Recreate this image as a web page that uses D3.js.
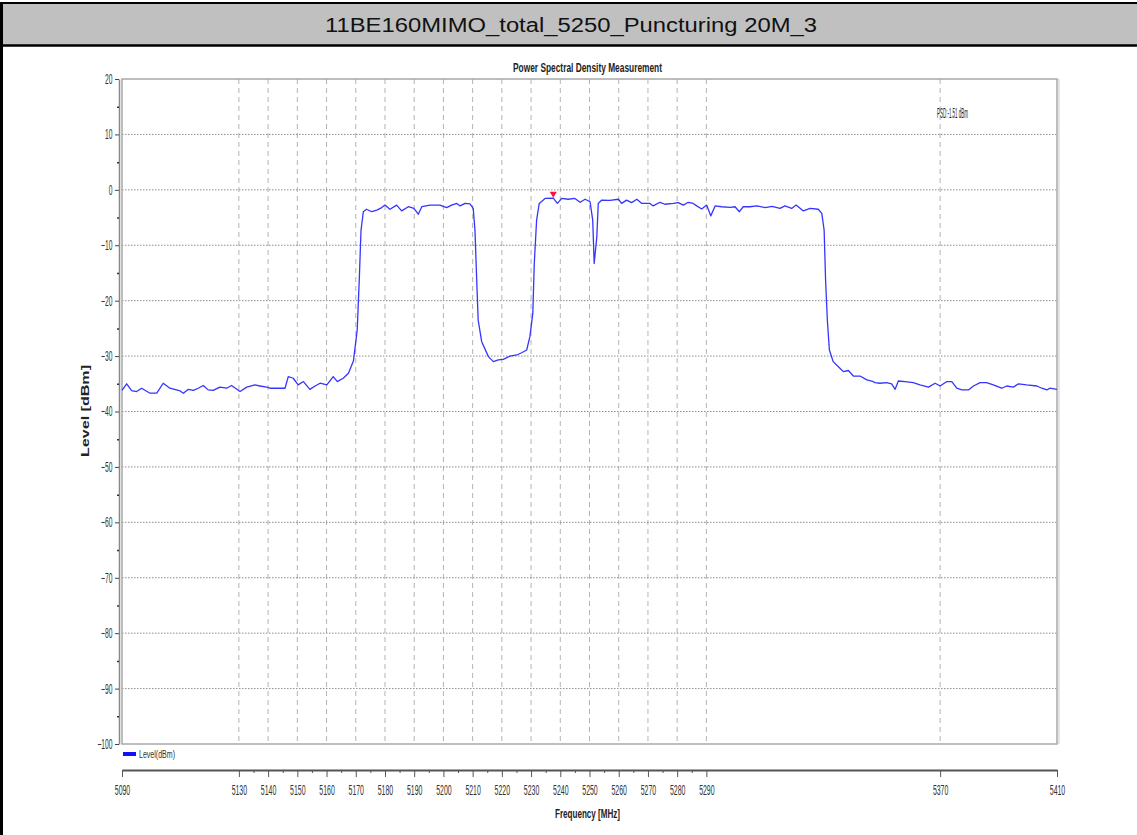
<!DOCTYPE html>
<html>
<head>
<meta charset="utf-8">
<script src="https://cdn.jsdelivr.net/npm/d3@7"></script>
<style>
  body { margin: 0; background: #fff; }
  svg { display: block; font-family: "Liberation Sans", Arial, sans-serif; }
</style>
</head>
<body>
<svg id="chart" width="1137" height="835"></svg>
<script>
// Power spectral density trace

var headerTitle = "11BE160MIMO_total_5250_Puncturing 20M_3";
var chartTitle = "Power Spectral Density Measurement";

var freqs = [5090,5091.6,5093.3,5095.0,5096.7,5099.6,5101.9,5104.1,5106.4,5109.9,
	5111.0,5112.7,5114.4,5116.1,5117.8,5119.5,5121.2,5123.5,5125.8,5127.5,
	5130.4,5132.7,5135.5,5137.2,5139.5,5140.7,5143.0,5145.8,5146.9,5148.6,
	5150.3,5152.1,5154.3,5156.1,5157.8,5160.1,5162.3,5163.7,5165.7,5167.5,
	5169.2,5170.5,5171.2,5171.8,5172.6,5173.7,5175.5,5177.2,5178.9,5180.0,
	5181.7,5184.0,5185.7,5188.0,5189.9,5191.4,5192.6,5195.4,5198.8,5201.1,
	5202.8,5204.6,5205.7,5207.4,5209.1,5210.2,5210.8,5211.4,5211.9,5213.1,
	5215.4,5217.1,5218.8,5220.5,5222.8,5225.1,5226.8,5228.5,5229.6,5230.6,
	5231.1,5231.9,5232.8,5234.8,5237.6,5239.0,5240.5,5242.7,5245.0,5246.8,
	5248.5,5250.2,5251.1,5251.6,5252.5,5253.0,5254.2,5257.0,5259.9,5261.0,
	5262.7,5264.4,5266.2,5267.9,5270.7,5271.8,5274.1,5275.8,5278.7,5280.4,
	5282.1,5283.8,5285.5,5286.7,5288.4,5290.1,5291.5,5293.0,5295.2,5298.1,
	5299.8,5301.3,5302.6,5304.9,5307.3,5310.1,5312.5,5315.2,5316.9,5319.2,
	5320.7,5323.2,5325.5,5328.3,5329.5,5330.3,5330.8,5331.4,5332.1,5333.4,
	5335.7,5336.9,5338.6,5340.3,5342.6,5344.9,5346.6,5347.7,5349.4,5351.7,
	5353.4,5354.6,5355.7,5358.0,5360.8,5363.1,5366.0,5368.3,5370.0,5372.3,
	5374.0,5375.7,5377.4,5379.7,5381.4,5383.7,5385.9,5388.2,5391.1,5392.8,
	5395.1,5396.8,5399.6,5403.1,5404.8,5406.5,5407.6,5410];

var levels = [-36.2,-35.0,-36.25,-36.4,-35.8,-36.7,-36.7,-34.9,-35.8,-36.3,
	-36.7,-36.0,-36.2,-35.8,-35.3,-36.1,-36.2,-35.6,-35.8,-35.3,
	-36.4,-35.6,-35.2,-35.4,-35.6,-35.8,-35.8,-35.8,-33.7,-34.0,
	-35.2,-34.6,-36.0,-35.4,-34.9,-35.2,-33.7,-34.6,-34.0,-33.1,
	-30.9,-25.3,-16.3,-7.3,-3.95,-3.5,-3.95,-3.65,-3.2,-2.75,
	-3.5,-2.75,-3.8,-3.05,-3.35,-4.4,-3.05,-2.75,-2.75,-3.2,
	-2.75,-2.45,-2.9,-2.45,-2.55,-3.35,-7.3,-16.3,-23.5,-27.4,
	-30.1,-31.0,-30.7,-30.6,-30.0,-29.8,-29.4,-28.9,-26.5,-22.3,
	-13.3,-5.45,-2.45,-1.55,-1.51,-2.45,-1.55,-1.7,-1.55,-2.25,
	-1.7,-2.15,-5.45,-13.3,-8.5,-2.45,-1.85,-1.9,-1.7,-2.45,
	-1.85,-2.3,-1.7,-2.45,-2.45,-2.9,-2.25,-2.6,-2.45,-2.3,
	-2.75,-2.25,-2.45,-2.9,-3.45,-2.75,-4.7,-2.9,-3.05,-3.15,
	-3.05,-3.95,-3.05,-3.05,-2.9,-3.2,-3.0,-3.35,-2.9,-3.35,
	-2.75,-3.8,-3.35,-3.5,-4.25,-7.25,-16.3,-23.5,-28.9,-31.0,
	-32.2,-32.8,-32.6,-33.6,-33.6,-34.3,-34.5,-34.8,-34.9,-34.8,
	-35.0,-36.0,-34.5,-34.6,-34.8,-35.2,-35.6,-34.9,-35.4,-34.6,
	-34.6,-35.8,-36.1,-36.1,-35.4,-34.8,-34.8,-35.2,-35.8,-35.4,
	-35.6,-35.0,-35.2,-35.4,-35.8,-36.1,-35.8,-36.0];

var majorFreqTicks = [5090,5130,5140,5150,5160,5170,5180,5190,5200,5210,5220,5230,5240,5250,5260,5270,5280,5290,5370,5410];
var minorFreqTicks = [5135,5145,5155,5165,5175,5185,5195,5205,5215,5225,5235,5245,5255,5265,5275,5285];
var gridFreqs = [5130,5140,5150,5160,5170,5180,5190,5200,5210,5220,5230,5240,5250,5260,5270,5280,5290,5370];
var levelTicks = [20,10,0,-10,-20,-30,-40,-50,-60,-70,-80,-90,-100];
var minorLevelTicks = [15,5,-5,-15,-25,-35,-45,-55,-65,-75,-85,-95];
var gridLevels = [10,0,-10,-20,-30,-40,-50,-60,-70,-80,-90];

var peakFreq = 5237.6;
var peakLevel = -1.51;
var peakLabel = "PSD:-1.51 dBm";
var legendLabel = "Level(dBm)";

var svg = d3.select("#chart");
var squeeze = 0.48; // tick labels are very narrow in the original

var x = d3.scaleLinear().domain([5090, 5410]).range([122, 1057]);
var y = d3.scaleLinear().domain([-100, 20]).range([744, 79]);
var plotLeft = x(5090), plotRight = x(5410), plotTop = y(20), plotBottom = y(-100);

// Header band
svg.append("rect").attr("x", 0).attr("y", 3).attr("width", 1137).attr("height", 42)
	.attr("fill", "#c0c0c0");
svg.append("line").attr("x1", 0).attr("x2", 1137).attr("y1", 3).attr("y2", 3)
	.attr("stroke", "#000").attr("stroke-width", 2);
svg.append("line").attr("x1", 0).attr("x2", 1137).attr("y1", 45.5).attr("y2", 45.5)
	.attr("stroke", "#000").attr("stroke-width", 2.5);
svg.append("line").attr("x1", 1.5).attr("x2", 1.5).attr("y1", 2).attr("y2", 835)
	.attr("stroke", "#000").attr("stroke-width", 3);
svg.append("text").attr("x", 571).attr("y", 32).attr("text-anchor", "middle")
	.attr("font-size", 20).attr("fill", "#111")
	.attr("textLength", 492).attr("lengthAdjust", "spacingAndGlyphs")
	.text(headerTitle);

// Grid
var grid = svg.append("g");
grid.selectAll(".vgrid").data(gridFreqs).enter().append("line")
	.attr("x1", function(d) { return x(d); })
	.attr("x2", function(d) { return x(d); })
	.attr("y1", plotTop).attr("y2", plotBottom)
	.attr("stroke", "#b4b4b4").attr("stroke-width", 1)
	.attr("stroke-dasharray", "5,4");
grid.selectAll(".hgrid").data(gridLevels).enter().append("line")
	.attr("x1", plotLeft).attr("x2", plotRight)
	.attr("y1", function(d) { return y(d); })
	.attr("y2", function(d) { return y(d); })
	.attr("stroke", "#8c8c8c").attr("stroke-width", 1)
	.attr("stroke-dasharray", "1.5,1.5");

// Plot frame
svg.append("rect").attr("x", plotLeft).attr("y", plotTop)
	.attr("width", plotRight - plotLeft).attr("height", plotBottom - plotTop)
	.attr("fill", "none").attr("stroke", "#a8a8a8").attr("stroke-width", 1.5);
svg.append("line").attr("x1", plotRight + 2).attr("x2", plotRight + 2)
	.attr("y1", plotTop).attr("y2", plotBottom)
	.attr("stroke", "#dcdcdc").attr("stroke-width", 1.5);

// Y axis
var yAxisX = plotLeft - 3;
var yAxisG = svg.append("g").attr("transform", "translate(" + yAxisX + ",0)")
	.call(d3.axisLeft(y).tickValues(levelTicks).tickSize(4).tickSizeOuter(0));
yAxisG.select(".domain").attr("stroke", "#888").attr("stroke-width", 1.5);
yAxisG.selectAll(".tick line").attr("stroke", "#444");
yAxisG.selectAll(".tick text")
	.attr("x", -6.5 / squeeze)
	.attr("transform", "scale(" + squeeze + ",1)")
	.attr("font-size", 14).attr("fill", "#333")
	.attr("font-family", "Liberation Sans, Arial, sans-serif");
var yMinorG = svg.append("g").attr("transform", "translate(" + yAxisX + ",0)")
	.call(d3.axisLeft(y).tickValues(minorLevelTicks).tickSize(2).tickFormat(""));
yMinorG.select(".domain").remove();
yMinorG.selectAll(".tick line").attr("stroke", "#333").attr("stroke-width", 1.5);

// X axis, drawn apart below the plot
var xAxisY = 770;
var xAxisG = svg.append("g").attr("transform", "translate(0," + xAxisY + ")")
	.call(d3.axisBottom(x).tickValues(majorFreqTicks).tickSize(7).tickSizeOuter(0).tickPadding(8)
		.tickFormat(d3.format("d")));
xAxisG.select(".domain").attr("stroke", "#555").attr("stroke-width", 2);
xAxisG.selectAll(".tick line").attr("stroke", "#555");
xAxisG.selectAll(".tick text")
	.attr("transform", "scale(" + squeeze + ",1)")
	.attr("font-size", 14.5).attr("fill", "#333")
	.attr("font-family", "Liberation Sans, Arial, sans-serif");
var xMinorG = svg.append("g").attr("transform", "translate(0," + xAxisY + ")")
	.call(d3.axisBottom(x).tickValues(minorFreqTicks).tickSize(3).tickFormat(""));
xMinorG.select(".domain").remove();
xMinorG.selectAll(".tick line").attr("stroke", "#555");

// Trace
var line = d3.line()
	.x(function(d, i) { return x(freqs[i]); })
	.y(function(d) { return y(d); });
svg.append("path").datum(levels)
	.attr("d", line)
	.attr("fill", "none")
	.attr("stroke", "#3535ff")
	.attr("stroke-width", 1.3)
	.attr("stroke-linejoin", "round");

// Peak marker
svg.append("path")
	.attr("d", d3.symbol(d3.symbolTriangle, 22)())
	.attr("transform", "translate(" + x(peakFreq) + "," + (y(peakLevel) - 4.5) + ") rotate(180)")
	.attr("fill", "#ff1040");

// Texts
svg.append("text").attr("x", 587.5).attr("y", 71.5).attr("text-anchor", "middle")
	.attr("font-size", 13).attr("font-weight", "bold").attr("fill", "#222")
	.attr("textLength", 149).attr("lengthAdjust", "spacingAndGlyphs")
	.text(chartTitle);
svg.append("text").attr("x", 937).attr("y", 117.5)
	.attr("font-size", 14).attr("fill", "#222")
	.attr("textLength", 31).attr("lengthAdjust", "spacingAndGlyphs")
	.text(peakLabel);
svg.append("text").attr("transform", "translate(88.5,411) rotate(-90)")
	.attr("text-anchor", "middle")
	.attr("font-size", 10).attr("font-weight", "bold").attr("fill", "#222")
	.attr("textLength", 92).attr("lengthAdjust", "spacingAndGlyphs")
	.text("Level [dBm]");
svg.append("text").attr("x", 587.5).attr("y", 818).attr("text-anchor", "middle")
	.attr("font-size", 13).attr("font-weight", "bold").attr("fill", "#222")
	.attr("textLength", 65).attr("lengthAdjust", "spacingAndGlyphs")
	.text("Frequency [MHz]");

// Legend
svg.append("rect").attr("x", 123).attr("y", 752).attr("width", 13).attr("height", 4)
	.attr("fill", "#1010ff");
svg.append("text").attr("x", 139).attr("y", 758)
	.attr("font-size", 11).attr("fill", "#333")
	.attr("textLength", 36).attr("lengthAdjust", "spacingAndGlyphs")
	.text(legendLabel);
</script>
</body>
</html>
